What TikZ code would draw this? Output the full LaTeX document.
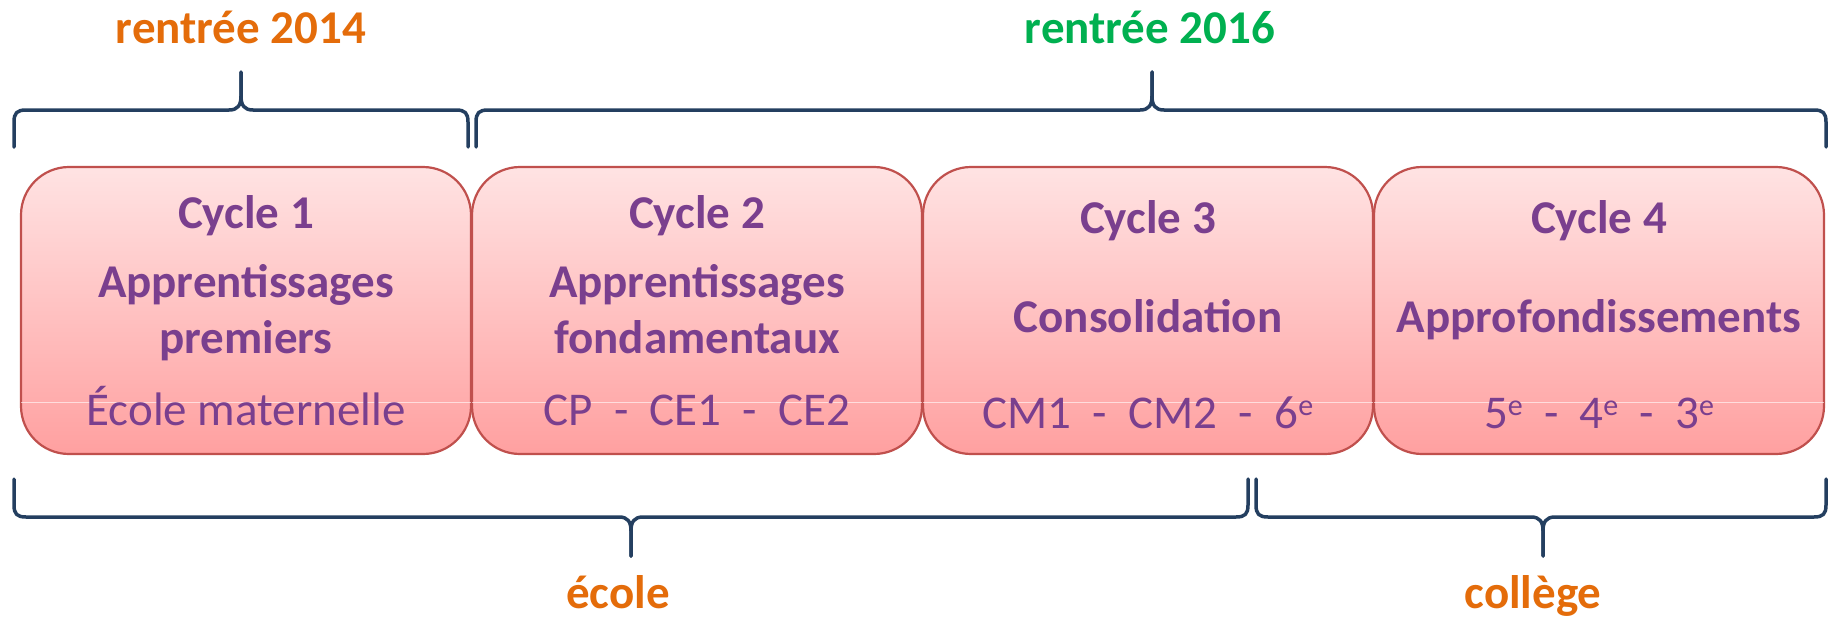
\documentclass[tikz,border=0pt]{standalone}
\usepackage{fontspec}
\setmainfont{Carlito}
\definecolor{txtpurple}{HTML}{7A3F8E}
\definecolor{bracecol}{HTML}{243F60}
\definecolor{boxborder}{HTML}{C0504D}
\definecolor{boxtop}{HTML}{FFE3E3}
\definecolor{boxbot}{HTML}{FFA0A0}
\definecolor{orangetxt}{HTML}{E46C0A}
\definecolor{greentxt}{HTML}{00B050}
\newcommand\supe{\raisebox{13pt}{\fontsize{30}{30}\selectfont e}}
\begin{document}
\begin{tikzpicture}[x=1pt,y=-1pt,
  cyclebox/.style={draw=boxborder, line width=2.2pt, rounded corners=48pt, top color=boxtop, bottom color=boxbot, minimum width=450pt, minimum height=287pt, inner sep=0pt},
  boldtxt/.style={font=\fontsize{47}{56}\selectfont\bfseries, text=txtpurple, anchor=base, inner sep=0pt},
  regtxt/.style={font=\fontsize{47}{56}\selectfont, text=txtpurple, anchor=base, inner sep=0pt},
  headlbl/.style={font=\fontsize{47}{56}\selectfont\bfseries, anchor=base, inner sep=0pt},
  brace/.style={draw=bracecol, line width=3.5pt, line cap=round, line join=round},
  gloss/.style={draw=white, opacity=0.6, line width=1pt}]
\useasboundingbox[fill=white] (0,0) rectangle (1829,619);

% boxes
\node (c1) [cyclebox] at (246,310.5) {};
\node (c2) [cyclebox] at (697,310.5) {};
\node (c3) [cyclebox] at (1148,310.5) {};
\node (c4) [cyclebox] at (1599,310.5) {};
\foreach \b in {c1,c2,c3,c4}{
  \draw[gloss] ([xshift=1.2pt]\b.west |- 0,402) -- ([xshift=-1.2pt]\b.east |- 0,402);
}

% box texts
\node (t1a) [boldtxt] at (246,228) {Cycle 1};
\node (t1b) [boldtxt] at (246,297) {Apprentissages};
\node (t1c) [boldtxt] at (246,353) {premiers};
\node (t1d) [regtxt]  at (246,425) {École maternelle};

\node (t2a) [boldtxt] at (697,228) {Cycle 2};
\node (t2b) [boldtxt] at (697,297) {Apprentissages};
\node (t2c) [boldtxt] at (697,353) {fondamentaux};
\node (t2d) [regtxt]  at (697,425) {CP\ \ -\ \ CE1\ \ -\ \ CE2};

\node (t3a) [boldtxt] at (1148,233) {Cycle 3};
\node (t3b) [boldtxt] at (1148,332) {Consolidation};
\node (t3c) [regtxt]  at (1148,428) {CM1\ \ -\ \ CM2\ \ -\ \ 6\supe};

\node (t4a) [boldtxt] at (1599,233) {Cycle 4};
\node (t4b) [boldtxt] at (1599,332) {Approfondissements};
\node (t4c) [regtxt]  at (1599,428) {5\supe\ \ -\ \ 4\supe\ \ -\ \ 3\supe};

% labels
\node (r14) [headlbl, text=orangetxt] at (241,43) {rentrée 2014};
\node (r16) [headlbl, text=greentxt] at (1150,43) {rentrée 2016};
\node (eco) [headlbl, text=orangetxt] at (618,608) {école};
\node (col) [headlbl, text=orangetxt] at (1533,608) {collège};

% top brace 1
\draw[brace] (14,147) -- (14,122) .. controls (14,113) and (17,110) .. (26,110) -- (229,110) .. controls (238,110) and (241,105) .. (241,96) -- (241,72);
\draw[brace] (468,147) -- (468,122) .. controls (468,113) and (465,110) .. (456,110) -- (253,110) .. controls (244,110) and (241,105) .. (241,96) -- (241,72);
% top brace 2
\draw[brace] (476,147) -- (476,122) .. controls (476,113) and (479,110) .. (488,110) -- (1140,110) .. controls (1149,110) and (1152,105) .. (1152,96) -- (1152,72);
\draw[brace] (1826,147) -- (1826,122) .. controls (1826,113) and (1823,110) .. (1814,110) -- (1164,110) .. controls (1155,110) and (1152,105) .. (1152,96) -- (1152,72);
% bottom brace 1
\draw[brace] (14,479) -- (14,505) .. controls (14,514) and (17,517) .. (26,517) -- (619,517) .. controls (628,517) and (631,522) .. (631,531) -- (631,556);
\draw[brace] (1248,479) -- (1248,505) .. controls (1248,514) and (1245,517) .. (1236,517) -- (643,517) .. controls (634,517) and (631,522) .. (631,531) -- (631,556);
% bottom brace 2
\draw[brace] (1256,479) -- (1256,505) .. controls (1256,514) and (1259,517) .. (1268,517) -- (1531,517) .. controls (1540,517) and (1543,522) .. (1543,531) -- (1543,556);
\draw[brace] (1826,479) -- (1826,505) .. controls (1826,514) and (1823,517) .. (1814,517) -- (1555,517) .. controls (1546,517) and (1543,522) .. (1543,531) -- (1543,556);
\end{tikzpicture}
\end{document}
